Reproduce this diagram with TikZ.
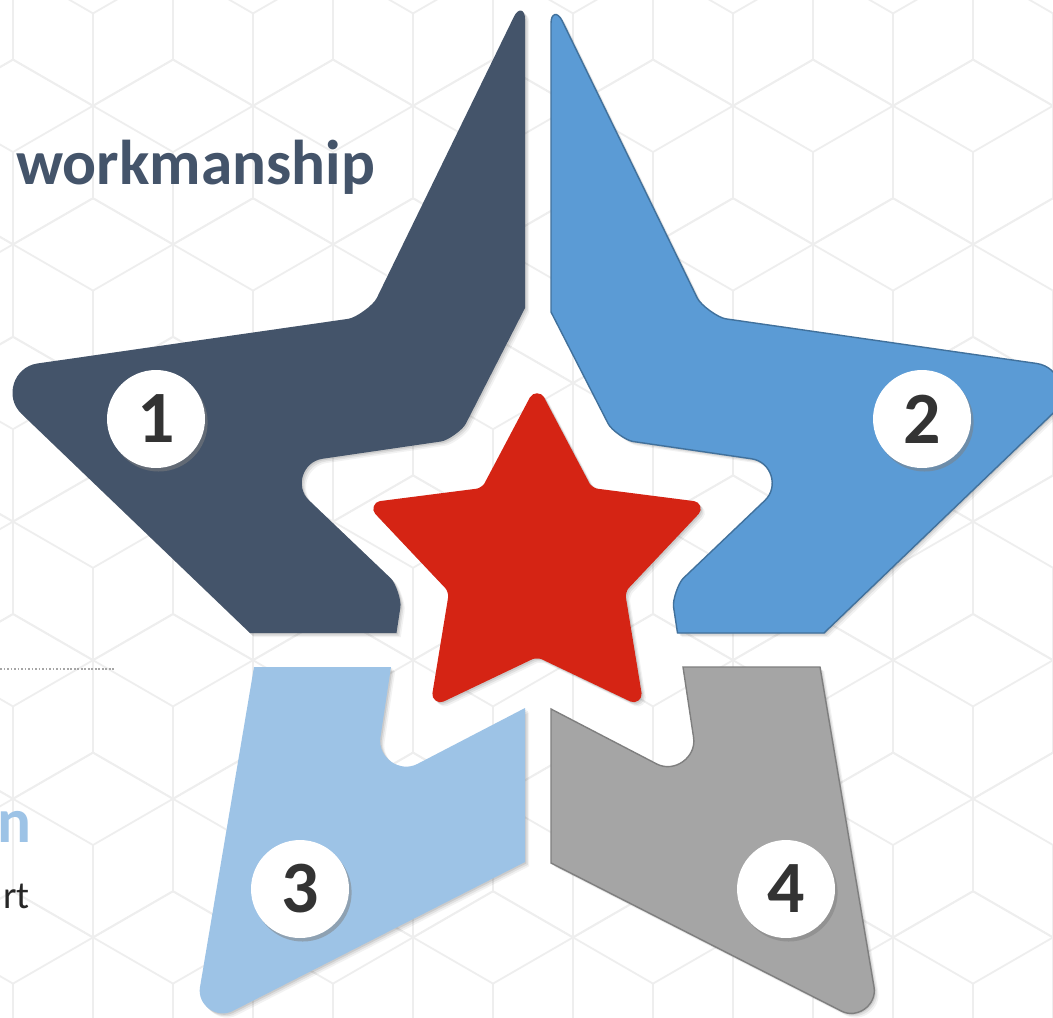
\documentclass[tikz,border=0pt]{standalone}
\usepackage{fontspec}
\setmainfont{Carlito}
\usepackage{tikz}
\usetikzlibrary{calc, shadows}

\definecolor{slate}{HTML}{44546A}
\definecolor{midblue}{HTML}{5B9BD5}
\definecolor{midblueline}{HTML}{41719C}
\definecolor{paleblue}{HTML}{9DC3E6}
\definecolor{steelgray}{HTML}{A5A5A5}
\definecolor{steelgrayline}{HTML}{7F7F7F}
\definecolor{starred}{HTML}{D52414}
\definecolor{digitgray}{HTML}{333333}
\definecolor{hexgray}{HTML}{EEEEEE}

% corner #2 between #1 and #3, softened over distance #4
\newcommand{\softcorner}[4]{-- ($(#2)!#4!(#1)$) .. controls ($(#2)!0.6*#4!(#1)$) and ($(#2)!0.6*#4!(#3)$) .. ($(#2)!#4!(#3)$)}

% soft shadow under a closed path
\newcommand{\pieceshadow}[1]{%
  \foreach \sh/\op in {2.4pt/0.05, 1.6pt/0.07, 0.8pt/0.09} {
    \fill[black, opacity=\op, transform canvas={xshift=\sh, yshift=-\sh}] #1;
  }}

\newcommand{\pathone}{(M1) \softcorner{M1}{A1}{I126}{0.5cm} \softcorner{A1}{I126}{O162}{0.4cm}
  \softcorner{I126}{O162}{B1}{1.2cm} -- (B1) -- (C1) \softcorner{C1}{HI198}{HO162}{0.34cm}
  \softcorner{HI198}{HO162}{HI126}{1.0cm} \softcorner{HO162}{HI126}{D1}{0.34cm} -- (D1) -- cycle}
\newcommand{\pathtwo}{(M2) \softcorner{M2}{A2}{I54}{0.5cm} \softcorner{A2}{I54}{O18}{0.4cm}
  \softcorner{I54}{O18}{B2}{1.2cm} -- (B2) -- (C2) \softcorner{C2}{HI342}{HO18}{0.34cm}
  \softcorner{HI342}{HO18}{HI54}{1.0cm} \softcorner{HO18}{HI54}{D2}{0.34cm} -- (D2) -- cycle}
\newcommand{\paththree}{(M3) -- (B3) \softcorner{B3}{O234}{A3}{0.9cm} -- (A3) -- (D3)
  \softcorner{D3}{HO234}{C3}{1.0cm} -- (C3) -- cycle}
\newcommand{\pathfour}{(M4) -- (B4) \softcorner{B4}{O306}{A4}{0.9cm} -- (A4) -- (D4)
  \softcorner{D4}{HO306}{C4}{1.0cm} -- (C4) -- cycle}
\newcommand{\pathred}{(RS) \softcorner{R90}{RI54}{R18}{0.1cm} \softcorner{RI54}{R18}{RI342}{0.3cm}
  \softcorner{R18}{RI342}{R306}{0.1cm} \softcorner{RI342}{R306}{RI270}{0.3cm}
  \softcorner{R306}{RI270}{R234}{0.1cm} \softcorner{RI270}{R234}{RI198}{0.3cm}
  \softcorner{R234}{RI198}{R162}{0.1cm} \softcorner{RI198}{R162}{RI126}{0.3cm}
  \softcorner{R162}{RI126}{R90}{0.1cm} \softcorner{RI126}{R90}{RI54}{0.3cm} -- cycle}

\tikzset{
  hexline/.style={draw=hexgray, line width=1pt},
  numdisc/.style={circle, fill=white, minimum size=1.96cm, inner sep=0pt, text=digitgray,
    font=\fontsize{42}{42}\selectfont\bfseries,
    drop shadow={shadow xshift=1.5pt, shadow yshift=-2pt, opacity=0.5}},
}

\begin{document}
\begin{tikzpicture}[x=0.02cm, y=-0.02cm]
  \useasboundingbox (0,0) rectangle (1053,1017);
  \fill[white] (0,0) rectangle (1053,1017);

  % cube pattern in the background
  \begin{scope}
    \clip (0,0) rectangle (1053,1017);
    \foreach \j in {0,...,7} {
      \foreach \k in {-1,...,6} {
        \pgfmathsetmacro\cx{13+80*mod(\j+1,2)+160*\k}
        \pgfmathsetmacro\cy{13.4+138.6*\j}
        \draw[hexline] (\cx,\cy-92.4) -- ++(80,46.2) -- ++(0,92.4) -- ++(-80,46.2)
          -- ++(-80,-46.2) -- ++(0,-92.4) -- cycle;
        \draw[hexline] (\cx-80,\cy-46.2) -- (\cx,\cy) -- (\cx+80,\cy-46.2) (\cx,\cy) -- (\cx,\cy+92.4);
      }
    }
  \end{scope}

  % outer star
  \coordinate (O90) at (537,-31);
  \coordinate (I54) at (706,316);
  \coordinate (O18) at (1096,372);
  \coordinate (I342) at (815.5,641);
  \coordinate (O306) at (881.5,1031.5);
  \coordinate (I270) at (537,856);
  \coordinate (O234) at (192.5,1031.5);
  \coordinate (I198) at (258.5,641);
  \coordinate (O162) at (-22,372);
  \coordinate (I126) at (368,316);
  % hole round the red star
  \coordinate (HO90) at (537,285);
  \coordinate (HI54) at (616,439);
  \coordinate (HO18) at (801,466);
  \coordinate (HI342) at (671,590);
  \coordinate (HO306) at (701,787);
  \coordinate (HI270) at (537,702);
  \coordinate (HO234) at (373,787);
  \coordinate (HI198) at (403,590);
  \coordinate (HO162) at (273,466);
  \coordinate (HI126) at (458,439);
  % cut points
  \coordinate (M1) at (525,150);   \coordinate (A1) at (525,-6);
  \coordinate (B1) at (250,633);   \coordinate (C1) at (396.5,633);  \coordinate (D1) at (525,308);
  \coordinate (M2) at (551,150);   \coordinate (A2) at (551,-2);
  \coordinate (B2) at (824,633);   \coordinate (C2) at (677.5,633);  \coordinate (D2) at (551,312);
  \coordinate (M3) at (525,785);   \coordinate (B3) at (525,862);
  \coordinate (A3) at (254,667);   \coordinate (D3) at (391,667);    \coordinate (C3) at (525,708);
  \coordinate (M4) at (551,785);   \coordinate (B4) at (551,863);
  \coordinate (A4) at (820,667);   \coordinate (D4) at (683,667);    \coordinate (C4) at (551,709);
  % red star
  \coordinate (R90) at (537,384);
  \coordinate (RI54) at (592,488);
  \coordinate (R18) at (709,503);
  \coordinate (RI342) at (625,592);
  \coordinate (R306) at (644,708);
  \coordinate (RI270) at (537,657);
  \coordinate (R234) at (430,708);
  \coordinate (RI198) at (449,592);
  \coordinate (R162) at (365,503);
  \coordinate (RI126) at (482,488);
  \coordinate (RS) at ($(R90)!0.5!(RI54)$);

  \pieceshadow{\pathone}
  \fill[slate] \pathone;
  \pieceshadow{\pathtwo}
  \filldraw[fill=midblue, draw=midblueline, line width=0.8pt] \pathtwo;
  \pieceshadow{\paththree}
  \fill[paleblue] \paththree;
  \pieceshadow{\pathfour}
  \filldraw[fill=steelgray, draw=steelgrayline, line width=0.8pt] \pathfour;
  \pieceshadow{\pathred}
  \fill[starred] \pathred;

  \node[numdisc] (n1) at (156,419) {1};
  \node[numdisc] (n2) at (922,419) {2};
  \node[numdisc] (n3) at (300,889) {3};
  \node[numdisc] (n4) at (786,889) {4};

  \node[anchor=base west, inner sep=0pt, text=slate, font=\fontsize{36}{40}\selectfont\bfseries] (title) at (16,184) {workmanship};
  \node[anchor=base east, inner sep=0pt, text=paleblue, font=\fontsize{36}{40}\selectfont\bfseries] (tail) at (32,842) {n};
  \node[anchor=base east, inner sep=0pt, text=black!85, font=\fontsize{22}{26}\selectfont] (tailtext) at (30,908) {rt};

  \coordinate (rule west) at (0,669);
  \coordinate (rule east) at (115,669);
  \draw[gray!70, line width=0.6pt, dash pattern=on 1pt off 1pt] (rule west) -- (rule east);
\end{tikzpicture}
\end{document}
